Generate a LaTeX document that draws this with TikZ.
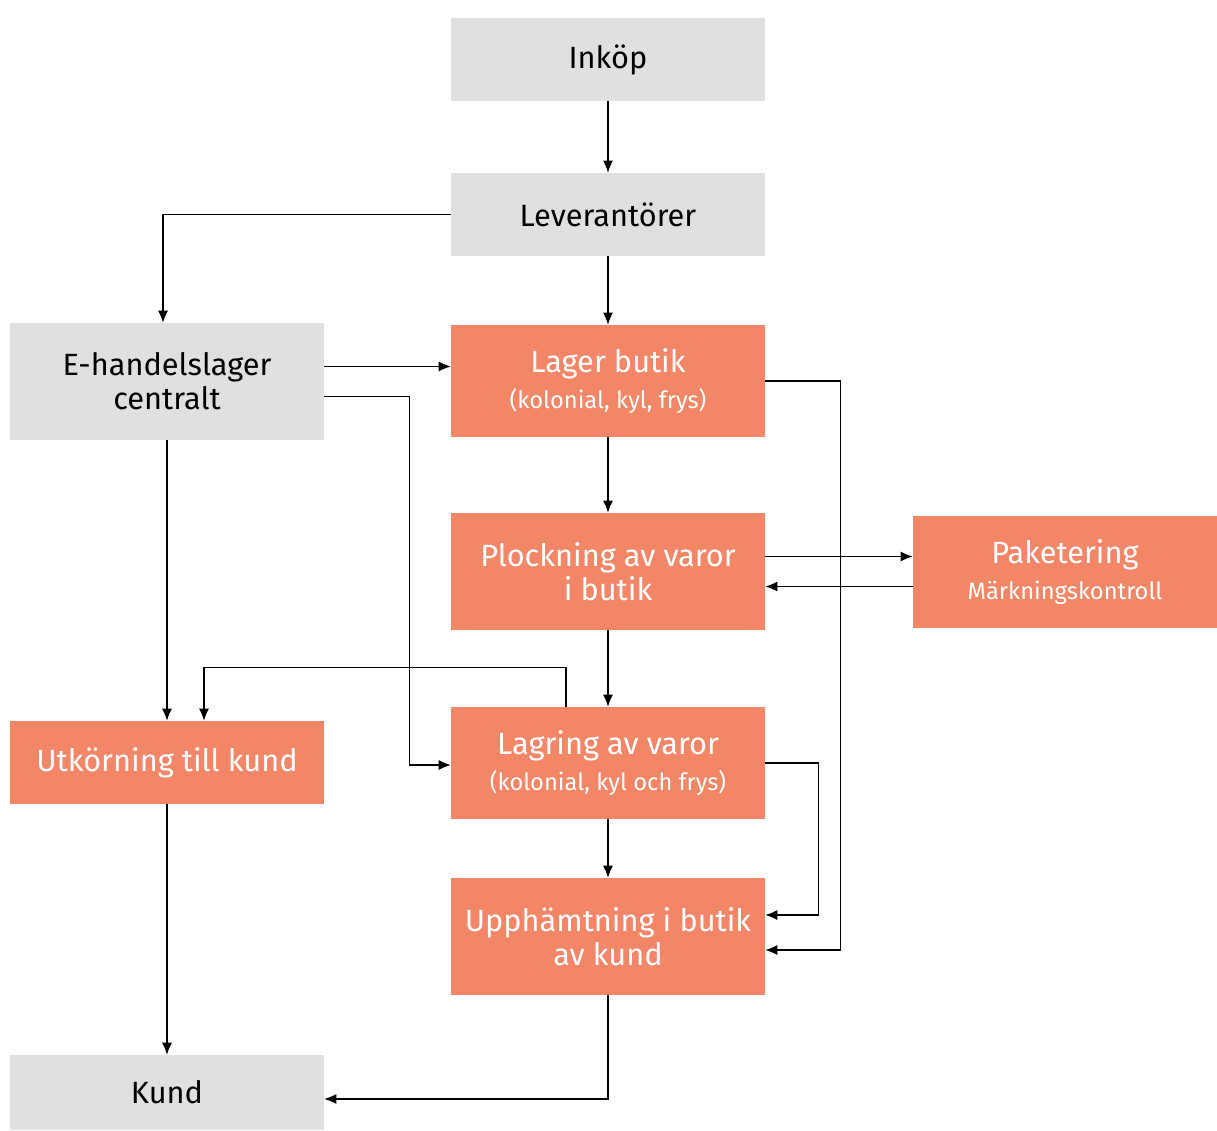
\documentclass[tikz,border=0pt]{standalone}
\usepackage{fontspec}
\setmainfont{Fira Sans}
\usetikzlibrary{arrows.meta}
\definecolor{boxgrey}{HTML}{E0E0E0}
\definecolor{boxorange}{HTML}{F48668}
\newcommand{\subtext}[1]{{\fontsize{13.5}{16}\selectfont #1}}
\begin{document}
\begin{tikzpicture}[
        x=0.02cm, y=-0.02cm,
        grey/.style={fill=boxgrey,text=black,minimum width=6.28cm,align=center,inner sep=0pt,font=\fontsize{17.5}{19.5}\selectfont},
        orange/.style={fill=boxorange,text=white,minimum width=6.28cm,align=center,inner sep=0pt,font=\fontsize{17.5}{19.5}\selectfont},
        conn/.style={draw,line width=0.6pt,-{Latex[length=0.24cm,width=0.2cm]}},
        ]
    \useasboundingbox (0,0) rectangle (1217,1130);
    % top row
    \node (inkop) [grey,minimum height=1.66cm] at (608,59.5) {Inköp};
    \node (lev) [grey,minimum height=1.66cm] at (608,214.5) {Leverantörer};
    % left column
    \node (eh) [grey,minimum height=2.34cm] at (167,381.5) {E-handelslager\\centralt};
    \node (ut) [orange,minimum height=1.66cm] at (167,762.5) {Utkörning till kund};
    \node (kund) [grey,minimum height=1.5cm] at (167,1092.5) {Kund};
    % middle column
    \node (lb) [orange,minimum height=2.24cm] at (608,381) {Lager butik\\[1pt]\subtext{(kolonial, kyl, frys)}};
    \node (pl) [orange,minimum height=2.34cm] at (608,571.5) {Plockning av varor\\i butik};
    \node (lag) [orange,minimum height=2.24cm] at (608,763) {Lagring av varor\\[1pt]\subtext{(kolonial, kyl och frys)}};
    \node (up) [orange,minimum height=2.34cm] at (608,936.5) {Upphämtning i butik\\av kund};
    % right
    \node (pak) [orange,minimum width=6.08cm,minimum height=2.24cm] at (1065,572) {Paketering\\[1pt]\subtext{Märkningskontroll}};

    \draw[conn] (inkop.south) -- (lev.north);
    \draw[conn] (lev.south) -- (lb.north);
    \draw[conn] (lev.west) -| ([xshift=-0.08cm]eh.north);
    \draw[conn] ([yshift=0.3cm]eh.east) -- ([yshift=0.3cm]eh.east -| lb.west);
    \draw[conn] ([yshift=-0.3cm]eh.east) -- ++(85,0) |- ([yshift=-0.04cm]lag.west);
    \draw[conn] (eh.south) -- (ut.north);
    \draw[conn] (lb.south) -- (pl.north);
    \draw[conn] (lb.east) -- ++(75,0) |- ([yshift=-0.27cm]up.east);
    \draw[conn] ([yshift=0.3cm]pl.east) -- ([yshift=0.3cm]pl.east -| pak.west);
    \draw[conn] ([yshift=-0.3cm]pl.east -| pak.west) -- ([yshift=-0.3cm]pl.east);
    \draw[conn] (pl.south) -- (lag.north);
    \draw[conn] ([xshift=-0.84cm]lag.north) -- ++(0,-39) -| ([xshift=0.74cm]ut.north);
    \draw[conn] (lag.east) -- ++(53,0) |- ([yshift=0.43cm]up.east);
    \draw[conn] (lag.south) -- (up.north);
    \draw[conn] (ut.south) -- (kund.north);
    \draw[conn] (up.south) |- ([yshift=-0.13cm]kund.east);
\end{tikzpicture}
\end{document}
